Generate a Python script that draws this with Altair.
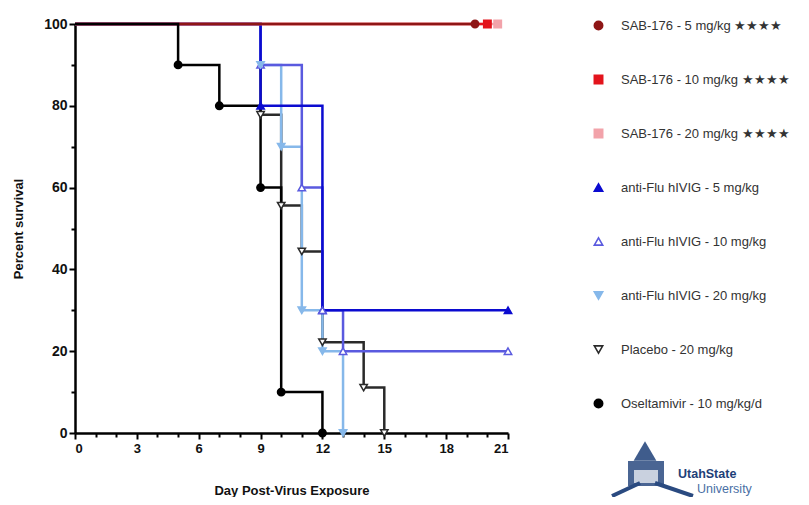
import altair as alt
import pandas as pd

# ---- data -------------------------------------------------------------
series = [
    "SAB-176 - 5 mg/kg ★★★★",
    "SAB-176 - 10 mg/kg ★★★★",
    "SAB-176 - 20 mg/kg ★★★★",
    "anti-Flu hIVIG - 5 mg/kg",
    "anti-Flu hIVIG - 10 mg/kg",
    "anti-Flu hIVIG - 20 mg/kg",
    "Placebo - 20 mg/kg",
    "Oseltamivir - 10 mg/kg/d",
]
colors = ["#8E1616", "#E3141C", "#F2A3AA", "#0B0BD0", "#5A5ADF", "#86B8EA", "#2A2A2A", "#000000"]
fills = ["#8E1616", "#E3141C", "#F2A3AA", "#0B0BD0", "#FFFFFF", "#86B8EA", "#FFFFFF", "#000000"]
shapes = ["circle", "square", "square", "triangle-up", "triangle-up", "triangle-down", "triangle-down", "circle"]

# step curves (day, percent survival)
line_days = [
    [0, 19.4],
    [0, 20.0],
    [0, 20.5],
    [0, 9, 12, 21],
    [0, 9, 11, 12, 13, 21],
    [0, 9, 10, 11, 12, 13],
    [0, 9, 10, 11, 12, 14, 15],
    [0, 5, 7, 9, 10, 12],
]
line_surv = [
    [100, 100],
    [100, 100],
    [100, 100],
    [100, 80, 30, 30],
    [100, 90, 60, 30, 20, 20],
    [100, 90, 70, 30, 20, 0],
    [100, 77.8, 55.6, 44.4, 22.2, 11.1, 0],
    [100, 90, 80, 60, 10, 0],
]
# markers
marker_days = [
    [19.4],
    [20.0],
    [20.5],
    [9, 12, 21],
    [9, 11, 12, 13, 21],
    [9, 10, 11, 12, 13],
    [9, 10, 11, 12, 14, 15],
    [5, 7, 9, 10, 12],
]
marker_surv = [
    [100],
    [100],
    [100],
    [80, 30, 30],
    [90, 60, 30, 20, 20],
    [90, 70, 30, 20, 0],
    [77.8, 55.6, 44.4, 22.2, 11.1, 0],
    [90, 80, 60, 10, 0],
]

x_ticks = list(range(0, 22))
y_ticks = list(range(0, 101, 10))

# ---- build tables -----------------------------------------------------
line_rows = []
for i, s in enumerate(series):
    for d, v in zip(line_days[i], line_surv[i]):
        line_rows.append({"series": s, "day": d, "surv": v})
lines_df = pd.DataFrame(line_rows)

mark_rows = []
for i, s in enumerate(series):
    for d, v in zip(marker_days[i], marker_surv[i]):
        mark_rows.append({"series": s, "day": d, "surv": v})
marks_df = pd.DataFrame(mark_rows)

FONT = "Liberation Sans"
NAVY = "#2A4A80"
W, H = 433, 409

xscale = alt.Scale(domain=[0, 21], nice=False, zero=False)
yscale = alt.Scale(domain=[0, 100], nice=False)

x_axis = alt.Axis(
    values=x_ticks,
    labelExpr="datum.value % 3 === 0 ? datum.label : ''",
    title="Day Post-Virus Exposure",
    titlePadding=29,
    grid=False,
    tickSize={"condition": {"test": "datum.value % 3 === 0", "value": 6}, "value": 4},
    labelPadding=3,
)
y_axis = alt.Axis(
    values=y_ticks,
    labelExpr="datum.value % 20 === 0 ? datum.label : ''",
    title="Percent survival",
    titlePadding=18,
    grid=False,
    tickSize={"condition": {"test": "datum.value % 20 === 0", "value": 6}, "value": 4},
    labelPadding=2,
    labelFontSize=14,
)

enc_x = alt.X("day:Q", scale=xscale, axis=x_axis)
enc_y = alt.Y("surv:Q", scale=yscale, axis=y_axis)

draw_order = [6, 5, 4, 3, 2, 1, 0, 7]
layers = []
for idx in draw_order:
    s = series[idx]
    layers.append(
        alt.Chart(lines_df[lines_df.series == s])
        .mark_line(interpolate="step-after", strokeWidth=2.5, color=colors[idx], clip=False)
        .encode(x=enc_x, y=enc_y)
    )

points = (
    alt.Chart(marks_df)
    .mark_point(size=55, strokeWidth=1.5, opacity=1, filled=False, clip=False)
    .encode(
        x=enc_x,
        y=enc_y,
        stroke=alt.Stroke("series:N", scale=alt.Scale(domain=series, range=colors), legend=alt.Legend(
            title=None, orient="none", legendX=517, legendY=-5, padding=0,
            rowPadding=39, labelFontSize=13, labelFont=FONT, labelColor="#333333",
            labelLimit=300, symbolSize=70, symbolStrokeWidth=1.6, labelOffset=16,
        )),
        fill=alt.Fill("series:N", scale=alt.Scale(domain=series, range=fills)),
        shape=alt.Shape("series:N", scale=alt.Scale(domain=series, range=shapes)),
    )
)

# ---- logo (decorative) ------------------------------------------------
one = pd.DataFrame({"t": ["logo"]})
logo1 = alt.Chart(one).mark_text(
    font=FONT, fontSize=12.5, fontWeight="bold", color="#1E3F78", align="left", baseline="alphabetic"
).encode(text=alt.value("UtahState"), x=alt.value(603), y=alt.value(454))
logo2 = alt.Chart(one).mark_text(
    font=FONT, fontSize=12.5, color="#4A6FA5", align="left", baseline="alphabetic"
).encode(text=alt.value("University"), x=alt.value(622), y=alt.value(469))
roof = alt.Chart(one).mark_point(shape="triangle-up", filled=True, color=NAVY, size=520, opacity=0.9).encode(
    x=alt.value(570), y=alt.value(427))
body = alt.Chart(one).mark_rect(color=NAVY, opacity=0.85).encode(
    x=alt.value(553), x2=alt.value(589), y=alt.value(437), y2=alt.value(462))
cols = alt.Chart(one).mark_rect(color="#FFFFFF", opacity=0.7).encode(
    x=alt.value(559), x2=alt.value(583), y=alt.value(446), y2=alt.value(459))
base1 = alt.Chart(one).mark_rule(color=NAVY, strokeWidth=4).encode(
    x=alt.value(537), x2=alt.value(565), y=alt.value(472), y2=alt.value(459))
base2 = alt.Chart(one).mark_rule(color=NAVY, strokeWidth=4).encode(
    x=alt.value(580), x2=alt.value(618), y=alt.value(459), y2=alt.value(472))

chart = (
    alt.layer(*layers, points, roof, body, cols, base1, base2, logo1, logo2)
    .properties(
        width=W,
        height=H,
        autosize=alt.AutoSizeParams(type="none"),
        padding={"left": 67, "top": 16, "right": 292, "bottom": 64},
    )
    .configure_view(stroke=None)
    .configure_axis(
        domainColor="#000000",
        domainWidth=2.5,
        tickColor="#000000",
        tickWidth=2,
        labelFont=FONT,
        labelFontSize=13,
        labelFontWeight="bold",
        labelColor="#111111",
        titleFont=FONT,
        titleFontSize=13,
        titleFontWeight="bold",
        titleColor="#111111",
    )
)

chart.save("out.html", embed_options={"renderer": "svg", "actions": False})
